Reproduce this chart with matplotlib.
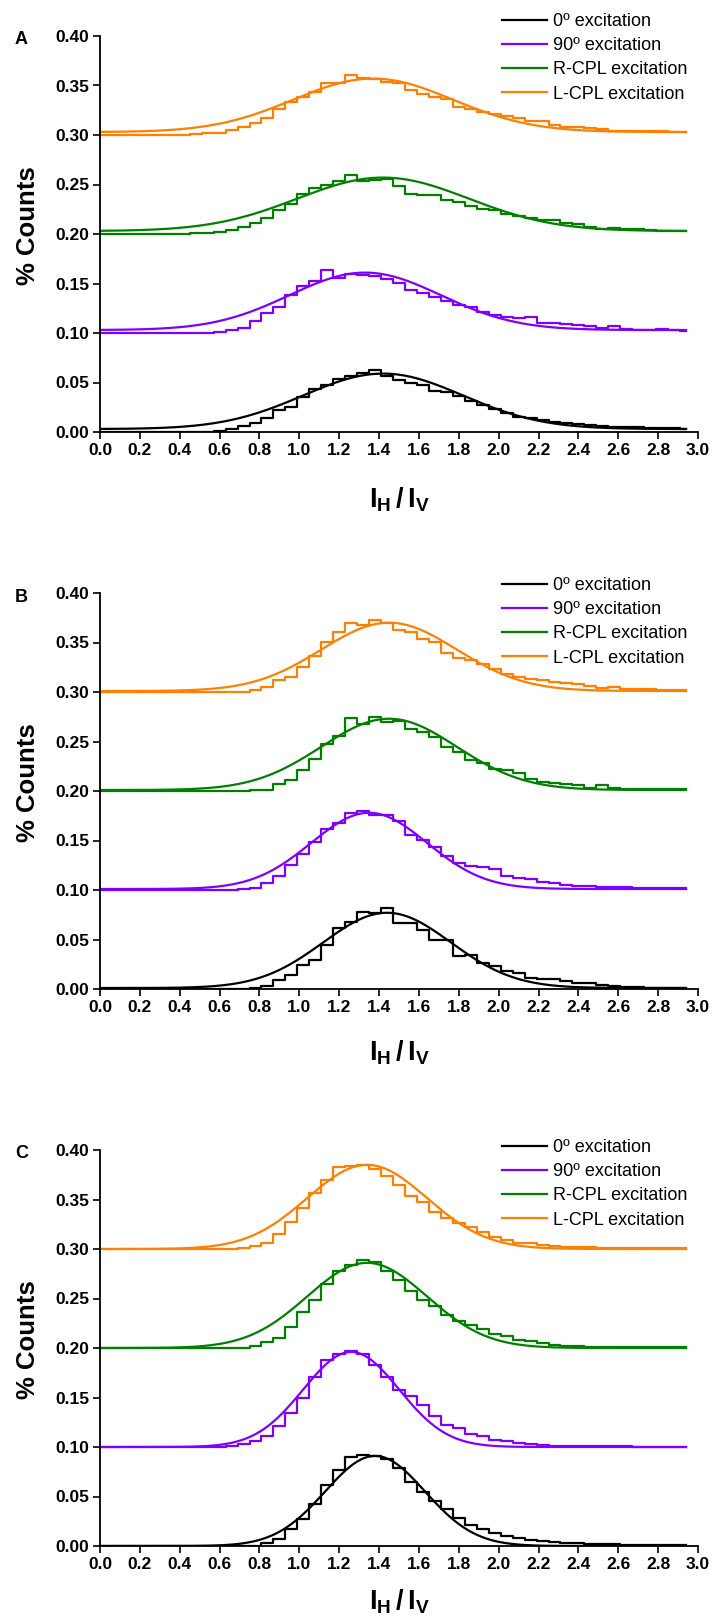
import numpy as np
import matplotlib
matplotlib.use('Agg')
import matplotlib.pyplot as plt

plt.rcParams['font.family'] = ['Liberation Sans', 'DejaVu Sans']
plt.rcParams['mathtext.fontset'] = 'custom'
plt.rcParams['mathtext.rm'] = 'Liberation Sans'
plt.rcParams['mathtext.bf'] = 'Liberation Sans:bold'

# series labels / colours / vertical offsets
labels = ['0º excitation', '90º excitation', 'R-CPL excitation', 'L-CPL excitation']
colors = ['#000000', '#8000FF', '#008000', '#FF8000']
offsets = [0.0, 0.1, 0.2, 0.3]

# histogram bin centres (I_H / I_V), bin width 0.06
ratio_bins = np.round(np.arange(50) * 0.06, 2)

# ---- panel A histograms (% counts, before offset)
a_black = [0, 0, 0, 0, 0, 0, 0, 0, 0, 0,
           0.0013, 0.0027, 0.006, 0.0094, 0.0138, 0.022, 0.0256, 0.035, 0.043, 0.047,
           0.054, 0.057, 0.060, 0.0626, 0.057, 0.0525, 0.050, 0.0475, 0.041, 0.040,
           0.036, 0.031, 0.027, 0.023, 0.019, 0.0155, 0.014, 0.012, 0.0105, 0.0094,
           0.008, 0.007, 0.0064, 0.0054, 0.005, 0.0047, 0.0044, 0.004, 0.0037, 0.0034]
a_purple = [0, 0, 0, 0, 0, 0, 0, 0, 0, 0,
            0.001, 0.003, 0.0047, 0.0125, 0.0205, 0.026, 0.0384, 0.0475, 0.053, 0.0636,
            0.056, 0.060, 0.0586, 0.0576, 0.055, 0.051, 0.0434, 0.040, 0.0367, 0.0327,
            0.0283, 0.0266, 0.0215, 0.0182, 0.0158, 0.015, 0.016, 0.0104, 0.0098, 0.0088,
            0.0077, 0.0071, 0.0047, 0.0071, 0.0037, 0.003, 0.003, 0.0037, 0.0027, 0.0024]
a_green = [0, 0, 0, 0, 0, 0, 0, 0, 0.0007, 0.0013,
           0.002, 0.0037, 0.007, 0.011, 0.0165, 0.024, 0.030, 0.0407, 0.0468, 0.050,
           0.054, 0.060, 0.0535, 0.055, 0.056, 0.048, 0.0407, 0.0397, 0.039, 0.034,
           0.0323, 0.028, 0.0256, 0.0239, 0.0205, 0.0185, 0.0165, 0.0145, 0.0138, 0.011,
           0.0098, 0.007, 0.005, 0.0057, 0.005, 0.005, 0.0037, 0.0034, 0.003, 0.003]
a_orange = [0, 0, 0, 0, 0, 0, 0, 0, 0.0007, 0.0017,
            0.0017, 0.005, 0.0084, 0.0125, 0.0172, 0.0263, 0.033, 0.038, 0.0438, 0.0522,
            0.0522, 0.0606, 0.0572, 0.0566, 0.054, 0.053, 0.045, 0.0414, 0.038, 0.0364,
            0.0286, 0.0263, 0.0229, 0.0212, 0.0195, 0.0172, 0.0145, 0.0138, 0.0104, 0.0084,
            0.0084, 0.0071, 0.006, 0.0044, 0.0037, 0.0037, 0.0044, 0.0037, 0.0034, 0.0034]

# ---- panel B histograms
b_black = [0, 0, 0, 0, 0, 0, 0, 0, 0, 0,
           0, 0, 0, 0.001, 0.0034, 0.0094, 0.0141, 0.0245, 0.0296, 0.0447,
           0.0615, 0.0672, 0.0773, 0.0767, 0.0817, 0.0666, 0.0666, 0.060, 0.050, 0.049,
           0.0336, 0.0346, 0.026, 0.0229, 0.0178, 0.016, 0.011, 0.010, 0.010, 0.0077,
           0.006, 0.006, 0.0044, 0.0027, 0.002, 0.0017, 0.0013, 0.001, 0.001, 0.001]
b_purple = [0, 0, 0, 0, 0, 0, 0, 0, 0, 0,
            0, 0, 0.0007, 0.0017, 0.0067, 0.0141, 0.0252, 0.0363, 0.0488, 0.0612,
            0.0679, 0.078, 0.0797, 0.0757, 0.0757, 0.070, 0.0555, 0.051, 0.0437, 0.0343,
            0.0276, 0.0242, 0.0229, 0.0208, 0.0141, 0.0118, 0.0108, 0.0084, 0.0067, 0.005,
            0.0044, 0.004, 0.0034, 0.003, 0.0027, 0.0024, 0.002, 0.002, 0.0017, 0.0017]
b_green = [0, 0, 0, 0, 0, 0, 0, 0, 0, 0,
           0, 0, 0, 0.0007, 0.0013, 0.0067, 0.0114, 0.0208, 0.0326, 0.0477,
           0.0551, 0.074, 0.0679, 0.0746, 0.0696, 0.0706, 0.0629, 0.0595, 0.0545, 0.0444,
           0.0393, 0.0309, 0.0282, 0.0225, 0.0208, 0.0182, 0.0124, 0.0091, 0.0081, 0.0067,
           0.0057, 0.0034, 0.0057, 0.0034, 0.0024, 0.002, 0.002, 0.0017, 0.0017, 0.0017]
b_orange = [0, 0, 0, 0, 0, 0, 0, 0, 0, 0,
            0, 0, 0, 0.0017, 0.005, 0.0124, 0.0151, 0.0252, 0.036, 0.0504,
            0.0605, 0.0696, 0.0672, 0.073, 0.0696, 0.0629, 0.0605, 0.0538, 0.0504, 0.0393,
            0.0346, 0.0319, 0.0286, 0.0235, 0.0185, 0.0151, 0.0134, 0.0124, 0.0101, 0.0091,
            0.0077, 0.0057, 0.0044, 0.005, 0.0034, 0.003, 0.0027, 0.0024, 0.002, 0.002]

# ---- panel C histograms
c_black = [0, 0, 0, 0, 0, 0, 0, 0, 0, 0,
           0, 0, 0, 0, 0.0027, 0.0074, 0.0169, 0.027, 0.0422, 0.0615,
           0.077, 0.0895, 0.0919, 0.0912, 0.0878, 0.0784, 0.0649, 0.0547, 0.0456, 0.0372,
           0.0287, 0.0209, 0.0176, 0.0128, 0.0101, 0.0084, 0.0057, 0.0051, 0.004, 0.0034,
           0.0027, 0.002, 0.002, 0.0017, 0.0013, 0.0013, 0.001, 0.001, 0.001, 0.0007]
c_purple = [0, 0, 0, 0, 0, 0, 0, 0, 0, 0,
            0, 0.0007, 0.0034, 0.0057, 0.0114, 0.0208, 0.0343, 0.0494, 0.0706, 0.088,
            0.0941, 0.0974, 0.0941, 0.083, 0.0712, 0.0578, 0.0511, 0.0427, 0.0316, 0.0225,
            0.0192, 0.0134, 0.0108, 0.0074, 0.0057, 0.004, 0.003, 0.0024, 0.0013, 0.001,
            0.001, 0.0007, 0.0007, 0.0007, 0.0007, 0.0003, 0.0003, 0.0003, 0.0003, 0.0003]
c_green = [0, 0, 0, 0, 0, 0, 0, 0, 0, 0,
           0, 0, 0, 0.0017, 0.0057, 0.0101, 0.0212, 0.036, 0.048, 0.0649,
           0.0773, 0.084, 0.089, 0.0864, 0.0773, 0.0682, 0.058, 0.0487, 0.042, 0.0336,
           0.0269, 0.0235, 0.0192, 0.0144, 0.0118, 0.0084, 0.0067, 0.005, 0.0034, 0.0024,
           0.0017, 0.0013, 0.001, 0.001, 0.0007, 0.0007, 0.0007, 0.0007, 0.0007, 0.0007]
c_orange = [0, 0, 0, 0, 0, 0, 0, 0, 0, 0,
            0, 0, 0.0007, 0.003, 0.0064, 0.0151, 0.0276, 0.041, 0.0568, 0.0702,
            0.083, 0.0837, 0.0847, 0.0813, 0.0736, 0.0645, 0.0534, 0.0477, 0.0376, 0.0309,
            0.0265, 0.0218, 0.0175, 0.0124, 0.0091, 0.0064, 0.0057, 0.004, 0.003, 0.0024,
            0.0017, 0.0017, 0.0013, 0.001, 0.001, 0.001, 0.0007, 0.0007, 0.0007, 0.0007]

# Gaussian fit parameters per series: baseline, peak height, centre, sigma
a_fit_base = [0.003, 0.003, 0.003, 0.003]
a_fit_height = [0.056, 0.058, 0.054, 0.054]
a_fit_center = [1.42, 1.33, 1.42, 1.37]
a_fit_sigma = [0.40, 0.38, 0.43, 0.40]

b_fit_base = [0.001, 0.001, 0.001, 0.001]
b_fit_height = [0.076, 0.077, 0.072, 0.069]
b_fit_center = [1.44, 1.35, 1.45, 1.45]
b_fit_sigma = [0.32, 0.29, 0.34, 0.34]

c_fit_base = [0.0, 0.0, 0.0, 0.0]
c_fit_height = [0.091, 0.096, 0.086, 0.085]
c_fit_center = [1.38, 1.26, 1.34, 1.34]
c_fit_sigma = [0.25, 0.24, 0.30, 0.30]

panel_letters = ['A', 'B', 'C']

W, H = 716, 1618
fig = plt.figure(figsize=(W / 100, H / 100), dpi=100)

ax_left, ax_right = 100, 698
ax_tops = [36, 593, 1150]
ax_h = 396
legend_rows = [19, 583, 1145]
xlabel_pads = [20, 17, 11]

panels = [
    ([a_black, a_purple, a_green, a_orange], a_fit_base, a_fit_height, a_fit_center, a_fit_sigma),
    ([b_black, b_purple, b_green, b_orange], b_fit_base, b_fit_height, b_fit_center, b_fit_sigma),
    ([c_black, c_purple, c_green, c_orange], c_fit_base, c_fit_height, c_fit_center, c_fit_sigma),
]

x_fit = np.linspace(0, 2.94, 400)

for p, (hists, base, height, center, sigma) in enumerate(panels):
    top = ax_tops[p]
    ax = fig.add_axes([ax_left / W, 1 - (top + ax_h) / H, (ax_right - ax_left) / W, ax_h / H])
    for i in range(4):
        ax.plot(ratio_bins, np.array(hists[i]) + offsets[i], drawstyle='steps-mid',
                color=colors[i], lw=1.6)
        y_fit = offsets[i] + base[i] + height[i] * np.exp(-0.5 * ((x_fit - center[i]) / sigma[i]) ** 2)
        ax.plot(x_fit, y_fit, color=colors[i], lw=1.6, label=labels[i])

    ax.set_xlim(0, 3.0)
    ax.set_ylim(0, 0.40)
    ax.set_xticks(np.arange(0, 3.01, 0.2))
    ax.set_xticklabels(['%.1f' % v for v in np.arange(0, 3.01, 0.2)])
    ax.set_yticks(np.arange(0, 0.401, 0.05))
    ax.set_yticklabels(['%.2f' % v for v in np.arange(0, 0.401, 0.05)])
    for s in ['top', 'right']:
        ax.spines[s].set_visible(False)
    for s in ['left', 'bottom']:
        ax.spines[s].set_linewidth(1.3)
    ax.tick_params(direction='out', length=5, width=1.2, labelsize=12.5, pad=3)
    for t in ax.get_xticklabels() + ax.get_yticklabels():
        t.set_fontweight('bold')

    ax.set_ylabel('% Counts', fontsize=18.5, fontweight='bold')
    ax.yaxis.set_label_coords(-0.1, 0.52)
    ax.set_xlabel(r'$\mathbf{I}_{\mathbf{H}}\,\mathbf{/}\,\mathbf{I}_{\mathbf{V}}$', fontsize=19.5,
                  labelpad=xlabel_pads[p])

    leg_top = legend_rows[p] - 6
    ax.legend(loc='upper left', bbox_to_anchor=(502 / W, 1 - leg_top / H),
              bbox_transform=fig.transFigure, frameon=False, fontsize=13,
              handlelength=2.5, handletextpad=0.3, labelspacing=0.4,
              borderpad=0, borderaxespad=0)

    fig.text(15 / W, 1 - (top + 4) / H, panel_letters[p], fontsize=13, fontweight='bold',
             ha='left', va='center')

fig.savefig('out.png', dpi=100)
